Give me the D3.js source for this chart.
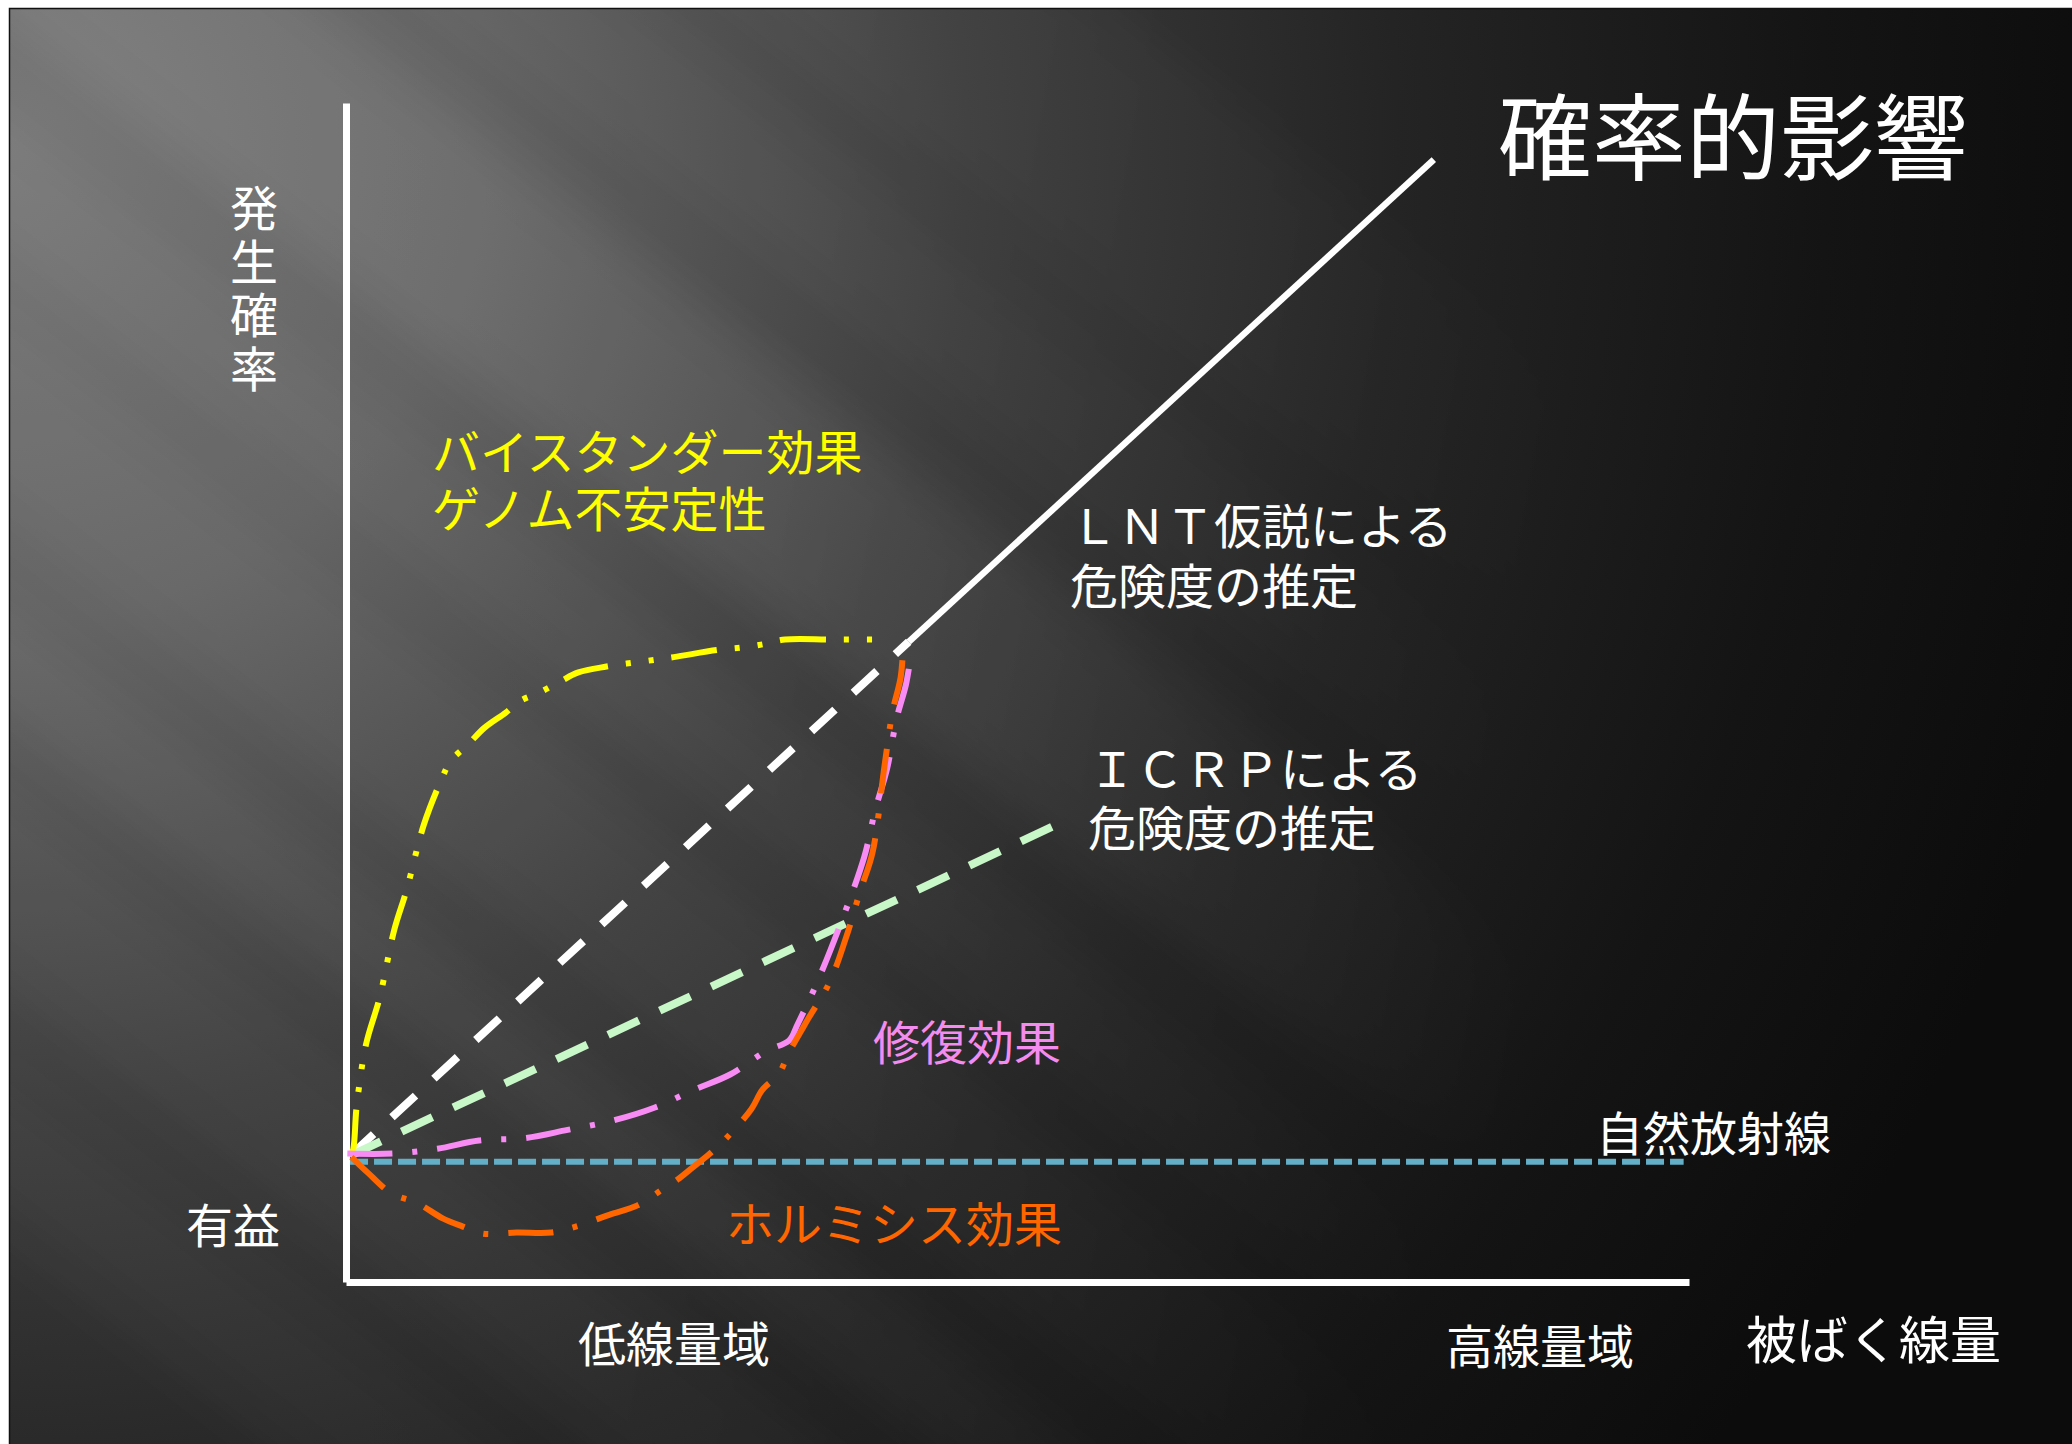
<!DOCTYPE html>
<html>
<head>
<meta charset="utf-8">
<script src="https://cdn.jsdelivr.net/npm/d3@7/dist/d3.min.js"></script>
<style>
  html, body { margin: 0; padding: 0; background: #ffffff; }
  svg { display: block; }
  text { font-family: "Noto Sans CJK JP", "Noto Sans", sans-serif; }
</style>
</head>
<body>
<svg id="chart" width="2072" height="1444"></svg>
<script>
// Dose (x) and probability of effect (y), both on a 0–10 schematic scale.
const naturalLevel = [[0.03, 1.02], [9.96, 1.02]];

const lntDashed = [[0.03, 1.07], [4.19, 5.43]];
const lntSolid  = [[4.19, 5.43], [8.10, 9.52]];

const icrp = [[0.03, 1.07], [5.35, 3.91]];

const bystander = [
  [0.03, 1.08], [0.05, 1.11], [0.08, 1.50], [0.15, 2.02], [0.25, 2.41], [0.36, 2.99],
  [0.45, 3.32], [0.58, 3.88], [0.71, 4.26], [0.78, 4.42], [0.91, 4.56], [1.03, 4.70],
  [1.19, 4.83], [1.30, 4.93], [1.44, 5.00], [1.59, 5.09], [1.73, 5.17], [1.94, 5.22],
  [2.25, 5.27], [2.44, 5.30], [2.76, 5.36], [2.94, 5.38], [3.11, 5.41], [3.27, 5.45],
  [3.61, 5.45], [3.97, 5.45]
];

const repair = [
  [0.01, 1.09], [0.35, 1.09], [0.68, 1.13], [0.99, 1.20], [1.33, 1.22], [1.65, 1.29],
  [1.99, 1.37], [2.30, 1.48], [2.59, 1.63], [2.86, 1.76], [3.13, 1.96], [3.30, 2.05],
  [3.36, 2.18], [3.50, 2.52], [3.69, 3.06], [3.86, 3.61], [3.94, 4.00], [4.03, 4.36],
  [4.10, 4.78], [4.17, 5.07], [4.20, 5.27]
];

const hormesis = [
  [0.04, 1.06], [0.16, 0.93], [0.34, 0.75], [0.53, 0.67], [0.72, 0.54], [0.87, 0.47],
  [1.02, 0.41], [1.27, 0.42], [1.53, 0.42], [1.71, 0.47], [1.96, 0.57], [2.17, 0.65],
  [2.35, 0.78], [2.47, 0.87], [2.58, 0.97], [2.71, 1.09], [2.84, 1.23], [3.02, 1.47],
  [3.10, 1.63], [3.22, 1.76], [3.30, 1.95], [3.44, 2.23], [3.60, 2.54], [3.72, 2.91],
  [3.83, 3.32], [3.92, 3.64], [4.01, 4.38], [4.07, 4.84], [4.13, 5.13], [4.15, 5.41]
];

const titleText = "確率的影響";
const yAxisLabel = "発生確率";
const benefitLabel = "有益";
const lowDoseLabel = "低線量域";
const highDoseLabel = "高線量域";
const doseLabel = "被ばく線量";
const naturalLabel = "自然放射線";
const hormesisLabel = "ホルミシス効果";
const repairLabel = "修復効果";
const icrpLabel = ["ＩＣＲＰによる", "危険度の推定"];
const lntLabel = ["ＬＮＴ仮説による", "危険度の推定"];
const bystanderLabel = ["バイスタンダー効果", "ゲノム不安定性"];

const W = 2072, H = 1444;
const svg = d3.select("#chart");
const defs = svg.append("defs");

// ---- slide background ----
const bg = defs.append("radialGradient").attr("id", "bgGrad")
  .attr("gradientUnits", "userSpaceOnUse")
  .attr("cx", 0).attr("cy", 150).attr("r", 2150);
[[0, "#777777"], [0.22, "#626262"], [0.45, "#3c3c3c"], [0.65, "#242424"], [0.85, "#141414"], [1, "#0c0c0c"]]
  .forEach(([o, c]) => bg.append("stop").attr("offset", o).attr("stop-color", c));

const blur = defs.append("filter").attr("id", "soft")
  .attr("x", "-50%").attr("y", "-50%").attr("width", "200%").attr("height", "200%");
blur.append("feGaussianBlur").attr("stdDeviation", 28);

const fade = defs.append("linearGradient").attr("id", "fadeGrad")
  .attr("gradientUnits", "userSpaceOnUse")
  .attr("x1", 0).attr("y1", 0).attr("x2", 1700).attr("y2", 300);
fade.append("stop").attr("offset", 0).attr("stop-color", "#ccc");
fade.append("stop").attr("offset", 0.5).attr("stop-color", "#bbb");
fade.append("stop").attr("offset", 1).attr("stop-color", "#000");
defs.append("mask").attr("id", "fadeMask")
  .append("rect").attr("width", W).attr("height", H).attr("fill", "url(#fadeGrad)");

defs.append("clipPath").attr("id", "slideClip")
  .append("rect").attr("x", 9).attr("y", 8).attr("width", W - 9).attr("height", H - 8);

const slide = svg.append("g").attr("clip-path", "url(#slideClip)");
slide.append("rect").attr("x", 9).attr("y", 8).attr("width", W - 9).attr("height", H - 8)
  .attr("fill", "url(#bgGrad)");

// diagonal light streaks
const rayAngle = 38;
const rays = [
  { c: -560, w: 240, o: 0.05 },
  { c: -330, w: 140, o: 0.05 },
  { c: -90,  w: 210, o: 0.11 },
  { c: 140,  w: 120, o: 0.06 },
  { c: 330,  w: 170, o: 0.06 },
  { c: 520,  w: 100, o: 0.07 },
  { c: 700,  w: 160, o: 0.05 },
  { c: 900,  w: 140, o: 0.04 }
];
const rayG = slide.append("g").attr("mask", "url(#fadeMask)").attr("filter", "url(#soft)");
const rad = rayAngle * Math.PI / 180;
rays.forEach(r => {
  const nx = -Math.sin(rad), ny = Math.cos(rad);
  const cx = nx * r.c, cy = ny * r.c;
  rayG.append("rect")
    .attr("x", -400).attr("y", -r.w / 2).attr("width", 3400).attr("height", r.w)
    .attr("fill", "#ffffff").attr("opacity", r.o)
    .attr("transform", `translate(${cx},${cy}) rotate(${rayAngle})`);
});

// thin dark edge of the slide
svg.append("path").attr("d", `M9.5,${H}V8.5H${W}`)
  .attr("fill", "none").attr("stroke", "#111").attr("stroke-width", 1.5);

// ---- scales & axes ----
const x = d3.scaleLinear().domain([0, 10]).range([346, 1689]);
const y = d3.scaleLinear().domain([0, 10]).range([1282, 103]);

const axisStyle = g => g.call(s => s.select(".domain")
  .attr("stroke", "#ffffff").attr("stroke-width", 7));

svg.append("g").attr("transform", `translate(0,${y(0)})`)
  .call(d3.axisBottom(x).tickValues([]).tickSizeOuter(0))
  .call(axisStyle);
svg.append("g").attr("transform", `translate(${x(0)},0)`)
  .call(d3.axisLeft(y).tickValues([]).tickSizeOuter(0))
  .call(axisStyle);

// ---- curves ----
const straight = d3.line().x(d => x(d[0])).y(d => y(d[1]));
const smooth = d3.line().x(d => x(d[0])).y(d => y(d[1]))
  .curve(d3.curveCatmullRom.alpha(0.5));

const plot = svg.append("g").attr("fill", "none").attr("stroke-linecap", "butt");

plot.append("path").datum(naturalLevel).attr("d", straight)
  .attr("stroke", "#64afc8").attr("stroke-width", 6).attr("stroke-dasharray", "18 6");

plot.append("path").datum(lntDashed).attr("d", straight)
  .attr("stroke", "#ffffff").attr("stroke-width", 8).attr("stroke-dasharray", "32 25");
plot.append("path").datum(lntSolid).attr("d", straight)
  .attr("stroke", "#ffffff").attr("stroke-width", 6.5);

plot.append("path").datum(icrp).attr("d", straight)
  .attr("stroke", "#c8f7c8").attr("stroke-width", 8).attr("stroke-dasharray", "34 23");

plot.append("path").datum(bystander).attr("d", smooth)
  .attr("stroke", "#ffff00").attr("stroke-width", 6)
  .attr("stroke-dasharray", "46 18 5 18 5 18");

plot.append("path").datum(repair).attr("d", smooth)
  .attr("stroke", "#f88cf4").attr("stroke-width", 6)
  .attr("stroke-dasharray", "45 20 5 20");

plot.append("path").datum(hormesis).attr("d", smooth)
  .attr("stroke", "#ff6600").attr("stroke-width", 6)
  .attr("stroke-dasharray", "45 20 5 20");

// ---- labels ----
const label = (txt, px, py, size, color, anchor = "start") =>
  svg.append("text").attr("x", px).attr("y", py)
    .attr("font-size", size).attr("fill", color)
    .attr("text-anchor", anchor).attr("dominant-baseline", "central")
    .text(txt);

// two-line caption in one text block
const block = (lines, px, ys, size, color) => {
  const t = svg.append("text").attr("font-size", size).attr("fill", color)
    .attr("dominant-baseline", "central");
  lines.forEach((ln, i) => t.append("tspan").attr("x", px[i]).attr("y", ys[i]).text(ln));
  return t;
};

label(titleText, 1498, 132, 94, "#ffffff");

// vertical y-axis caption
svg.append("text")
  .attr("x", 254).attr("y", 184)
  .attr("font-size", 48).attr("fill", "#ffffff")
  .style("writing-mode", "vertical-rl")
  .attr("letter-spacing", 5.5)
  .text(yAxisLabel);

label(benefitLabel, 186, 1222, 47, "#ffffff");
label(lowDoseLabel, 578, 1341, 48, "#ffffff");
label(highDoseLabel, 1446, 1343, 47, "#ffffff");
label(doseLabel, 1746, 1337, 51, "#ffffff");
label(naturalLabel, 1596, 1130, 47, "#ffffff");

label(hormesisLabel, 726, 1221, 48, "#ff6600");
label(repairLabel, 873, 1039, 47, "#f48cf0");

block(lntLabel, [1070, 1070], [523, 583], 48, "#ffffff");
block(icrpLabel, [1088, 1088], [766, 825], 48, "#ffffff");
block(bystanderLabel, [432, 432], [449, 506], 48, "#ffff00");
</script>
</body>
</html>
